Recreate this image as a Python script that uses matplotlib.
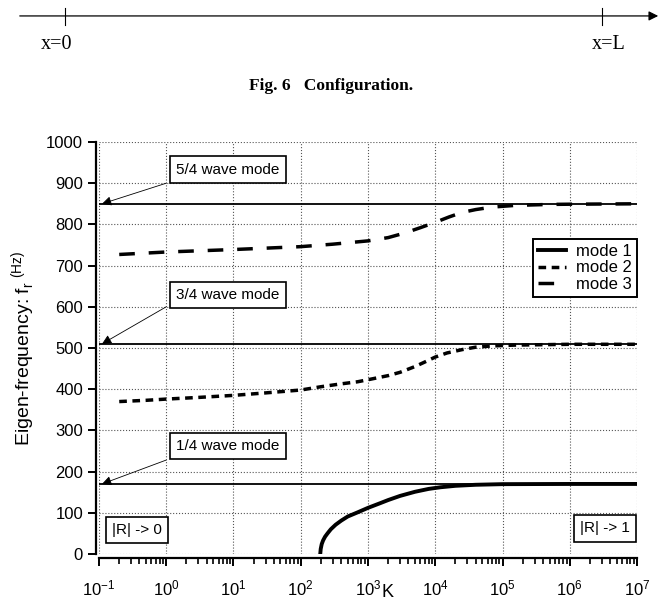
"""
Eigen-frequencies of the first three modes versus the impedance parameter K
"""
import numpy as np
import matplotlib.pyplot as plt
plt.rcParams.update({'font.family': ['Liberation Sans', 'DejaVu Sans'], 'font.size': 11})

# Data (K values, frequencies in Hz)
k_mode1 = [195, 198, 205, 215, 230, 250, 280, 330, 400, 500, 700, 1000, 1500, 2000, 3000,
           5000, 8000, 1.2e4, 2e4, 4e4, 1e5, 1e6, 1e7]
f_mode1 = [0, 12, 24, 33, 42, 50, 60, 71, 81, 91, 101, 112, 123, 131, 141,
           151, 158, 162, 165.5, 168, 169.5, 170, 170]

k_mode2 = [0.2, 0.5, 1, 3, 10, 30, 100, 200, 400, 700, 1000, 2000, 3000, 5000, 7000,
           1e4, 1.5e4, 2.5e4, 4e4, 7e4, 1.5e5, 1e6, 1e7]
f_mode2 = [370, 373, 376, 380, 385, 391, 398, 406, 413, 418, 423, 433, 441, 455, 466,
           478, 488, 496, 502, 505, 507, 509, 509]

k_mode3 = [0.2, 1, 10, 100, 300, 1000, 2000, 3500, 6000, 1e4, 1.6e4, 2.5e4, 4e4, 7e4,
           1.5e5, 5e5, 1e6, 1e7]
f_mode3 = [727, 733, 739, 746, 752, 760, 768, 779, 792, 805, 818, 829, 836, 842,
           846, 848.5, 849, 850]

# quarter-wave type reference frequencies
ref_freqs = [170, 510, 850]
ref_labels = ['1/4 wave mode', '3/4 wave mode', '5/4 wave mode']
ref_text_y = [263, 628, 933]
ref_tail_y = [228, 600, 900]

fig = plt.figure(figsize=(6.63, 6.04), dpi=100)

# Configuration sketch on top
top = fig.add_axes([0, 0.84, 1, 0.16])
top.set_xlim(0, 663)
top.set_ylim(97, 0)
top.axis('off')
top.annotate('', xy=(661, 16), xytext=(17, 16),
             arrowprops=dict(arrowstyle='-|>', color='black', lw=0.9, mutation_scale=14))
top.plot([65, 65], [8, 25], color='black', lw=0.8)
top.plot([602, 602], [8, 25], color='black', lw=0.8)
top.text(57, 45, 'x=0', family='Liberation Serif', fontsize=14.5, ha='center', va='center')
top.text(609, 45, 'x=L', family='Liberation Serif', fontsize=14.5, ha='center', va='center')
top.text(331, 86, 'Fig. 6   Configuration.', family='Liberation Serif', fontsize=12.5,
         fontweight='bold', ha='center', va='center')

# Main chart
ax = fig.add_axes([0.1493, 0.0828, 0.8115, 0.6821])
for f in ref_freqs:
    ax.axhline(f, color='black', lw=1.3, zorder=2)

ax.plot(k_mode1, f_mode1, color='black', lw=2.8, label='mode 1', zorder=3)
ax.plot(k_mode2, f_mode2, color='black', lw=2.5, linestyle=(0, (2.2, 1.6)), label='mode 2', zorder=3)
ax.plot(k_mode3, f_mode3, color='black', lw=2.5, linestyle=(0, (4.5, 4)), label='mode 3', zorder=3)

box = dict(boxstyle='square,pad=0.4', fc='white', ec='black', lw=1.2)
for f, lab, ty, tail in zip(ref_freqs, ref_labels, ref_text_y, ref_tail_y):
    ax.annotate('', xy=(0.111, f), xytext=(1.0, tail),
                arrowprops=dict(arrowstyle='-|>', color='black', lw=0.6, mutation_scale=14,
                                shrinkA=0, shrinkB=0))
    ax.text(8.3, ty, lab, fontsize=11, ha='center', va='center', bbox=box, zorder=5)

ax.text(0.367, 58, '|R| -> 0', fontsize=11, ha='center', va='center', bbox=box)
ax.text(3.3e6, 62, '|R| -> 1', fontsize=11, ha='center', va='center', bbox=box)

ax.set_xscale('log')
ax.set_xlim(0.1, 1e7)
ax.set_ylim(0, 1000)
ax.set_yticks(np.arange(0, 1001, 100))
ax.set_xticks([10.0**p for p in range(-1, 8)])

ax.grid(True, which='major', color='#555555', linestyle=':', lw=0.8)
ax.spines['top'].set_visible(False)
ax.spines['right'].set_visible(False)
ax.spines['left'].set_position(('outward', 2))
ax.spines['bottom'].set_position(('outward', 3))
ax.spines['left'].set_linewidth(1.6)
ax.spines['bottom'].set_linewidth(1.6)
ax.tick_params(axis='both', which='major', direction='out', length=6, width=1.4, labelsize=12)
ax.tick_params(axis='x', which='minor', direction='out', length=4, width=1.2)
ax.tick_params(axis='x', which='major', pad=9)

ax.set_xlabel('K', fontsize=13, va='center')
ax.xaxis.set_label_coords(0.537, -0.093)
ax.set_ylabel('Eigen-frequency: f$_\\mathregular{r}$$^{\\mathregular{\\ (Hz)}}$', fontsize=14, labelpad=6)

leg = ax.legend(loc='upper right', bbox_to_anchor=(1.0, 0.765), fontsize=12, fancybox=False,
                edgecolor='black', framealpha=1, handlelength=1.7, borderaxespad=0,
                borderpad=0.3, labelspacing=0.1, handletextpad=0.6)
leg.get_frame().set_linewidth(1.4)

fig.savefig('out.png', dpi=100)
